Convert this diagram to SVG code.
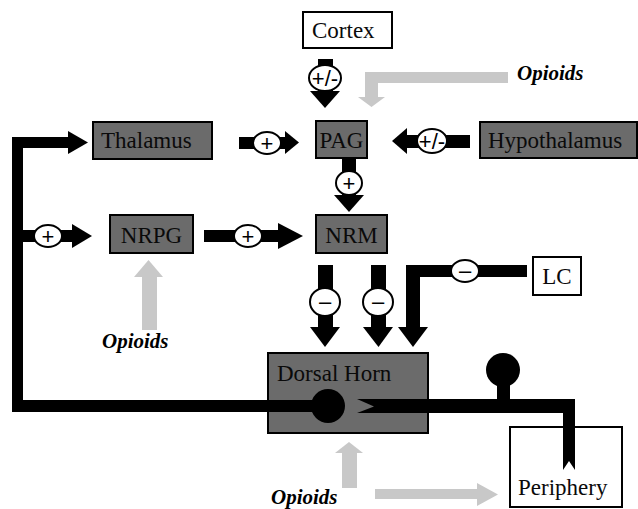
<svg xmlns="http://www.w3.org/2000/svg" width="638" height="509" viewBox="0 0 638 509">
<style>
.box{stroke:#000;stroke-width:2}
.dark{fill:#6b6b6b}
.light{fill:#fff}
.lbl{font-family:"Liberation Serif","Times New Roman",serif;font-size:23px;fill:#0a0a0a}
.op{font-family:"Liberation Serif","Times New Roman",serif;font-size:21px;font-weight:bold;font-style:italic;fill:#000}
.blk{fill:#000}
.gry{fill:#c8c8c8}
.ell{fill:#fff;stroke:#000;stroke-width:2}
.sgn{font-family:"Liberation Sans",Arial,sans-serif;font-size:22px;fill:#000;text-anchor:middle}
</style>
<rect width="638" height="509" fill="#fff"/>

<g id="cortex">
  <rect class="box light" x="303" y="12" width="89" height="36"/>
  <text class="lbl" x="312" y="38">Cortex</text>
</g>
<g id="opioids-top"><text class="op" x="517" y="80">Opioids</text></g>
<g id="thalamus">
  <rect class="box dark" x="93" y="122" width="119" height="37"/>
  <text class="lbl" x="101" y="148">Thalamus</text>
</g>
<g id="pag">
  <rect class="box dark" x="316" y="121" width="51" height="37"/>
  <text class="lbl" x="341.5" y="148" text-anchor="middle">PAG</text>
</g>
<g id="hypothalamus">
  <rect class="box dark" x="480" y="122" width="157" height="36"/>
  <text class="lbl" x="488" y="148">Hypothalamus</text>
</g>
<g id="nrpg">
  <rect class="box dark" x="110" y="215" width="83" height="38"/>
  <text class="lbl" x="151.5" y="243" text-anchor="middle">NRPG</text>
</g>
<g id="nrm">
  <rect class="box dark" x="316" y="215" width="71" height="38"/>
  <text class="lbl" x="351.5" y="243" text-anchor="middle">NRM</text>
</g>
<g id="lc">
  <rect class="box light" x="533" y="257" width="48" height="38"/>
  <text class="lbl" x="557" y="284" text-anchor="middle">LC</text>
</g>
<g id="opioids-mid"><text class="op" x="102" y="348">Opioids</text></g>
<g id="dorsal-horn">
  <rect class="box dark" x="268" y="353" width="160" height="80"/>
  <text class="lbl" x="277" y="381">Dorsal Horn</text>
</g>
<g id="periphery">
  <rect class="box light" x="510" y="427" width="112" height="80"/>
  <text class="lbl" x="518" y="495">Periphery</text>
</g>
<g id="opioids-bottom"><text class="op" x="271" y="504">Opioids</text></g>

<g id="connectors">
  <g id="c-cortex-pag">
    <rect class="blk" x="318" y="59" width="15" height="33"/>
    <polygon class="blk" points="310,91 340,91 325,108"/>
    <ellipse class="ell" cx="325" cy="78" rx="16" ry="13"/>
    <text class="sgn" x="325" y="86">+/-</text>
  </g>
  <g id="c-opioids-pag">
    <polygon class="gry" points="508,72 508,83 378,83 378,97 385,97 371.5,107 358,97 365,97 365,72"/>
  </g>
  <g id="c-thal-pag">
    <rect class="blk" x="239" y="137" width="47" height="12"/>
    <polygon class="blk" points="285,131 285,154 299,142.5"/>
    <ellipse class="ell" cx="267" cy="143" rx="14" ry="11"/>
    <text class="sgn" x="267" y="151">+</text>
  </g>
  <g id="c-hypo-pag">
    <rect class="blk" x="406" y="135" width="64" height="13"/>
    <polygon class="blk" points="407,128 407,154 392,141"/>
    <ellipse class="ell" cx="432" cy="141" rx="15" ry="12"/>
    <text class="sgn" x="432" y="149">+/-</text>
  </g>
  <g id="c-pag-nrm">
    <rect class="blk" x="342" y="158" width="14" height="38"/>
    <polygon class="blk" points="334,195 364,195 349,212"/>
    <ellipse class="ell" cx="349" cy="183" rx="13" ry="12"/>
    <text class="sgn" x="349" y="191">+</text>
  </g>
  <g id="c-nrpg-nrm">
    <rect class="blk" x="204" y="230" width="75" height="12"/>
    <polygon class="blk" points="278,223 278,249 303,236"/>
    <ellipse class="ell" cx="248" cy="236" rx="14" ry="11"/>
    <text class="sgn" x="248" y="244">+</text>
  </g>
  <g id="c-ascending">
    <rect class="blk" x="12" y="137" width="11" height="275"/>
    <rect class="blk" x="12" y="137" width="57" height="11"/>
    <polygon class="blk" points="68,131 68,154 88,142.5"/>
    <rect class="blk" x="23" y="230" width="50" height="12"/>
    <polygon class="blk" points="72,224 72,248 92,236"/>
    <ellipse class="ell" cx="48" cy="236" rx="14" ry="11"/>
    <text class="sgn" x="48" y="244">+</text>
    <rect class="blk" x="12" y="400" width="316" height="12"/>
    <circle class="blk" cx="328" cy="406" r="17"/>
  </g>
  <g id="c-periphery-dh">
    <polygon class="blk" points="357,399 575,399 575,470 569,461 563,470 563,413 357,413 374,406.5"/>
    <rect class="blk" x="497" y="378" width="13" height="22"/>
    <circle class="blk" cx="503" cy="370" r="17"/>
  </g>
  <g id="c-nrm-dh-1">
    <rect class="blk" x="318" y="265" width="15" height="63"/>
    <polygon class="blk" points="310,327 340,327 325,347"/>
    <ellipse class="ell" cx="325" cy="302" rx="15" ry="14"/>
    <text class="sgn" x="325" y="309">–</text>
  </g>
  <g id="c-nrm-dh-2">
    <rect class="blk" x="371" y="265" width="15" height="63"/>
    <polygon class="blk" points="363,327 393,327 378.5,347"/>
    <ellipse class="ell" cx="378" cy="302" rx="15" ry="14"/>
    <text class="sgn" x="378" y="309">–</text>
  </g>
  <g id="c-lc-dh">
    <rect class="blk" x="406" y="265" width="121" height="12"/>
    <rect class="blk" x="406" y="265" width="14" height="63"/>
    <polygon class="blk" points="398,327 428,327 413,347"/>
    <ellipse class="ell" cx="465" cy="271" rx="14" ry="11"/>
    <text class="sgn" x="465" y="278">–</text>
  </g>
  <g id="c-opioids-nrpg">
    <rect class="gry" x="142" y="276" width="15" height="54"/>
    <polygon class="gry" points="134,277 163,277 148.5,260"/>
  </g>
  <g id="c-opioids-dh">
    <rect class="gry" x="342" y="452" width="15" height="36"/>
    <polygon class="gry" points="335,453 363,453 349,442"/>
  </g>
  <g id="c-opioids-periphery">
    <rect class="gry" x="375" y="489" width="103" height="10"/>
    <polygon class="gry" points="477,483 477,506 498,494.5"/>
  </g>
</g>
</svg>
